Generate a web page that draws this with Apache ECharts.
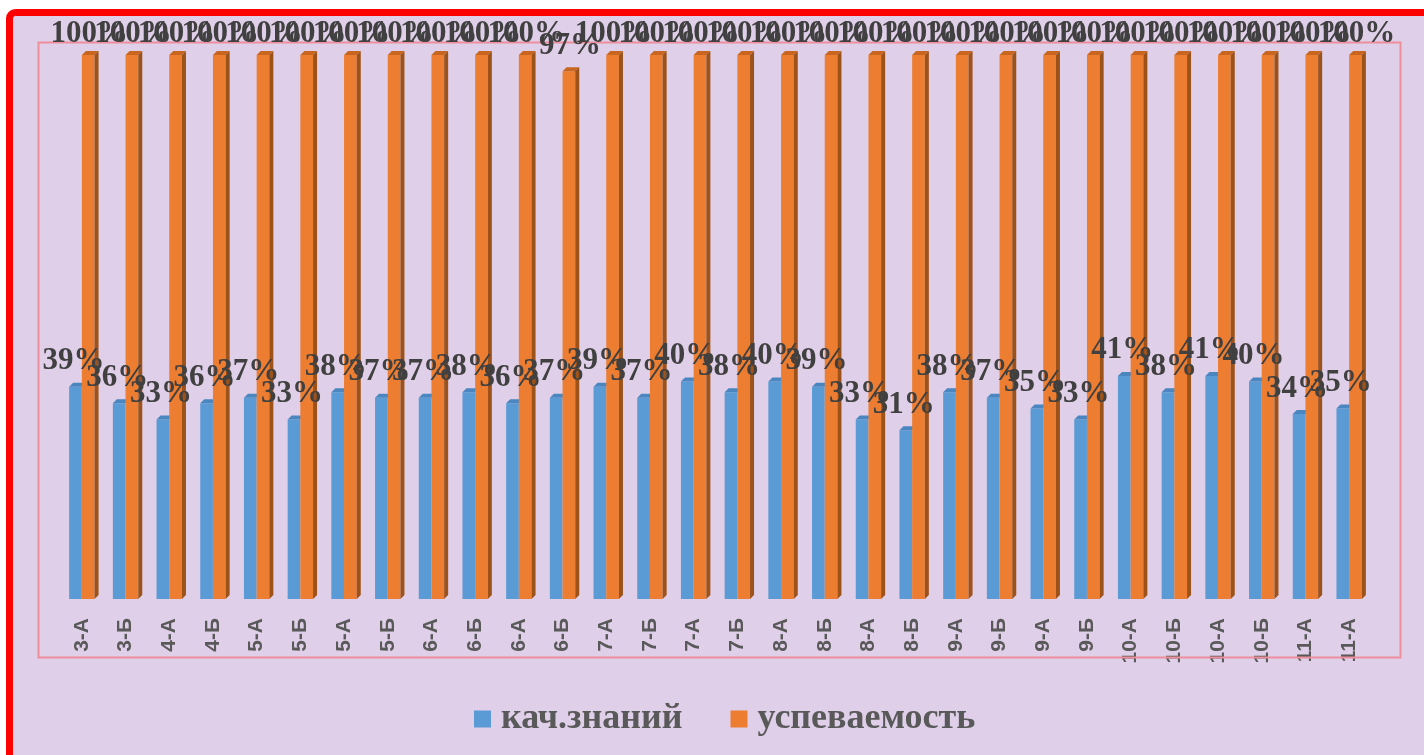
<!DOCTYPE html>
<html>
<head>
<meta charset="utf-8">
<script src="https://cdn.jsdelivr.net/npm/echarts@6/dist/echarts.min.js"></script>
<style>
html,body{margin:0;padding:0;background:#ffffff;}
#chart{width:1424px;height:755px;}
</style>
</head>
<body>
<div id="chart"></div>
<script>
const categories = ['3-А','3-Б','4-А','4-Б','5-А','5-Б','5-А','5-Б','6-А','6-Б','6-А','6-Б','7-А','7-Б','7-А','7-Б','8-А','8-Б','8-А','8-Б','9-А','9-Б','9-А','9-Б','10-А','10-Б','10-А','10-Б','11-А','11-А'];
const quality = [39,36,33,36,37,33,38,37,37,38,36,37,39,37,40,38,40,39,33,31,38,37,35,33,41,38,41,40,34,35];
const progress = [100,100,100,100,100,100,100,100,100,100,100,97,100,100,100,100,100,100,100,100,100,100,100,100,100,100,100,100,100,100];
const seriesNames = ['кач.знаний','успеваемость'];

const BLUE = '#5B9BD5', BLUE_TOP = '#4A86BF';
const ORANGE = '#ED7D31', ORANGE_TOP = '#C8661F', ORANGE_SIDE = '#9C5219';
const LAV = '#DFCFE8';
const W = 12.7, D = 4;

function makeRender(isOrange) {
  return function (params, api) {
    const idx = api.value(0), v = api.value(1);
    const base = api.coord([idx, 0]);
    const top = api.coord([idx, v]);
    const c = base[0];
    const x0 = isOrange ? c : c - W;
    const yT = top[1], yB = base[1];
    const children = [];
    children.push({type:'rect', shape:{x:x0, y:yT, width:W, height:yB-yT}, style:{fill: isOrange?ORANGE:BLUE}});
    children.push({type:'polygon', shape:{points:[[x0,yT],[x0+D,yT-D],[x0+W+D,yT-D],[x0+W,yT]]}, style:{fill: isOrange?ORANGE_TOP:BLUE_TOP}});
    if (isOrange) {
      children.push({type:'polygon', shape:{points:[[x0+W,yT],[x0+W+D,yT-D],[x0+W+D,yB-D],[x0+W,yB]]}, style:{fill: ORANGE_SIDE}});
    }
    return {type:'group', children: children};
  };
}
function makeLabel(isOrange) {
  return function (params, api) {
    const idx = api.value(0), v = api.value(1);
    const base = api.coord([idx, 0]);
    const top = api.coord([idx, v]);
    const c = base[0];
    const x0 = isOrange ? c : c - W;
    const ly = Math.max(top[1] - 10, 49);
    return {type:'text', style:{text: v + '%', x: x0 + W/2 + (isOrange?1:-2), y: ly,
      textAlign:'center', textVerticalAlign:'bottom', fill:'#404040',
      font:'bold 31px "Liberation Serif", "Times New Roman", serif'}};
  };
}

const chart = echarts.init(document.getElementById('chart'));
chart.setOption({
  backgroundColor: '#ffffff',
  animation: false,
  graphic: [
    {type:'rect', z:0, shape:{x:9.5, y:12.5, width:1440, height:760, r:6}, style:{fill:LAV, stroke:'#FF0000', lineWidth:7}},
    {type:'rect', z:1, shape:{x:38.5, y:42.5, width:1362, height:615}, style:{fill:'none', stroke:'#EE8E9B', lineWidth:2}}
  ],
  grid: {left: 60, right: 53, top: 55, bottom: 156},
  xAxis: {
    type: 'category', data: categories,
    axisLine:{show:false}, axisTick:{show:false}, splitLine:{show:false},
    axisLabel: {rotate: 90, margin: 19, interval: 0, color:'#595959', fontSize: 21, fontWeight:'bold', fontFamily:'"Liberation Sans", Arial, sans-serif'}
  },
  yAxis: {type:'value', min:0, max:100, show:false},
  legend: {
    left: 469, top: 696, itemWidth: 17, itemHeight: 17, itemGap: 48, icon: 'rect',
    textStyle: {color:'#595959', fontSize: 36, fontWeight:'bold', fontFamily:'"Liberation Serif", "Times New Roman", serif', padding:[0,0,0,5]},
    data: [{name: seriesNames[0], itemStyle:{color:BLUE}}, {name: seriesNames[1], itemStyle:{color:ORANGE}}]
  },
  series: [
    {name: seriesNames[0], type:'custom', z:2, itemStyle:{color:BLUE}, renderItem: makeRender(false), encode:{x:0,y:1}, data: quality.map((v,i)=>[i,v])},
    {name: seriesNames[1], type:'custom', z:3, itemStyle:{color:ORANGE}, renderItem: makeRender(true), encode:{x:0,y:1}, data: progress.map((v,i)=>[i,v])},
    {name: 'labels-q', type:'custom', z:10, silent:true, renderItem: makeLabel(false), encode:{x:0,y:1}, data: quality.map((v,i)=>[i,v])},
    {name: 'labels-p', type:'custom', z:10, silent:true, renderItem: makeLabel(true), encode:{x:0,y:1}, data: progress.map((v,i)=>[i,v])}
  ]
});
</script>
</body>
</html>
